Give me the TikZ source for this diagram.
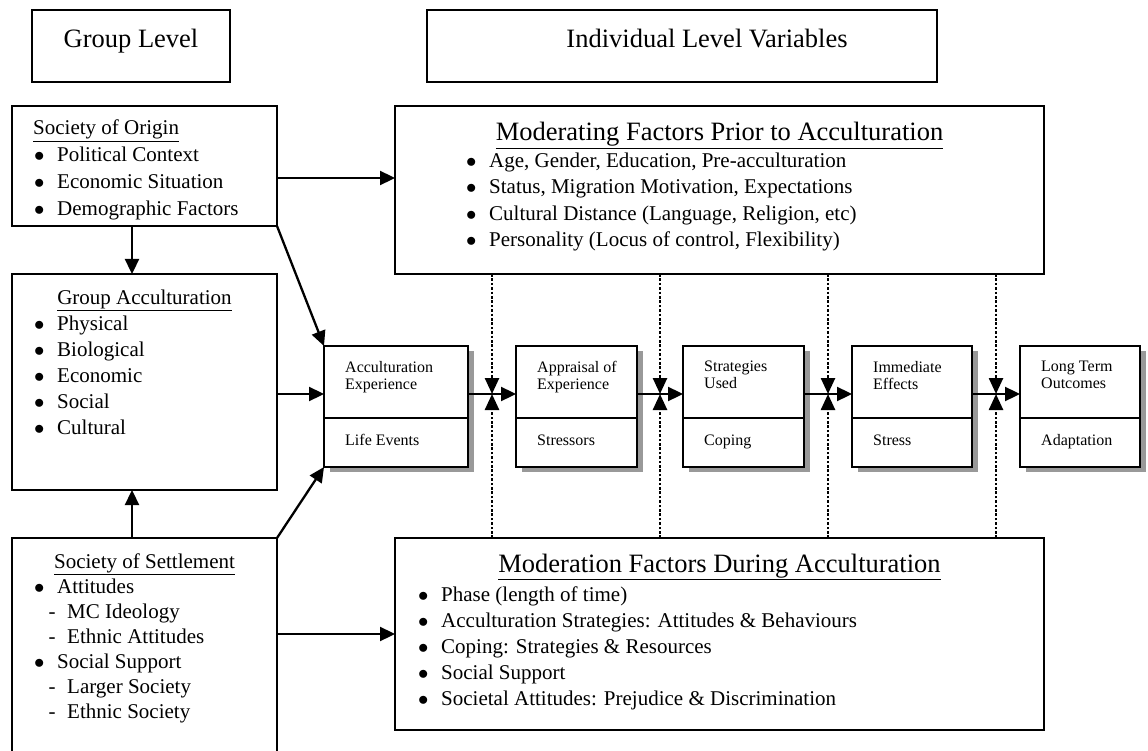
\documentclass[tikz,border=0pt]{standalone}
\usepackage{fontspec}
\setmainfont{Liberation Serif}
\usetikzlibrary{positioning,arrows.meta,shadows}

\newcommand{\bul}{\makebox[23pt][l]{$\bullet$}}
\newcommand{\dsh}{\hspace{14.5pt}\makebox[18.5pt][l]{-}}

\begin{document}
\begin{tikzpicture}[x=1pt,y=-1pt,
  box/.style={draw, line width=1.4pt, outer sep=0pt, inner sep=0pt},
  stage/.style={box, fill=white, minimum width=121, minimum height=121,
    drop shadow={shadow xshift=6pt, shadow yshift=-5pt, fill=black!40, opacity=1}},
  head/.style={font=\fontsize{26.5}{30}\selectfont, inner sep=0pt},
  item/.style={font=\fontsize{21}{26}\selectfont, anchor=base west, inner sep=0pt},
  small/.style={font=\fontsize{16}{17}\selectfont, inner sep=0pt, align=left},
  arrow/.style={line width=2.3pt, -{Triangle[length=15pt,width=14pt]}},
  link/.style={line width=2.5pt, dash pattern=on 2.6pt off 1.8pt, -{Triangle[length=16pt,width=14pt]}}]
\useasboundingbox (0,0) rectangle (1148,751);

% level headings
\node[box, minimum width=198, minimum height=72] (grouplvl) at (131,46) {};
\node[head, anchor=base] (grouplvltxt) at (131,48) {Group Level};
\node[box, minimum width=510, minimum height=72] (indiv) at (682,46) {};
\node[head, anchor=base] (indivtxt) at (707,48) {Individual Level Variables};

% group level
\node[box, minimum width=265, minimum height=120] (origin) at (144.5,166) {};
\node[item] (origintitle) at (33,135) {\underline{Society of Origin}};
\foreach \t [count=\i] in {Political Context, Economic Situation, Demographic Factors}
  \node[item] (origin\i) at (34,135+26.7*\i) {\bul\t};

\node[box, minimum width=265, minimum height=216] (groupacc) at (144.5,382) {};
\node[item, anchor=base] (groupacctitle) at (144.5,304) {\underline{Group Acculturation}};
\foreach \t [count=\i] in {Physical, Biological, Economic, Social, Cultural}
  \node[item] (groupacc\i) at (34,304+26*\i) {\bul\t};

\node[box, minimum width=265, minimum height=232] (settle) at (144.5,654) {};
\node[item, anchor=base] (settletitle) at (144.5,568) {\underline{Society of Settlement}};
\foreach \t [count=\i] in {\bul Attitudes, \dsh MC Ideology, \dsh Ethnic Attitudes,
    \bul Social Support, \dsh Larger Society, \dsh Ethnic Society}
  \node[item] (settle\i) at (34,568+25*\i) {\t};

% individual level
\node[box, minimum width=649, minimum height=168] (prior) at (719.5,190) {};
\node[head, anchor=base] (priortitle) at (719.5,141) {\underline{Moderating Factors Prior to Acculturation}};
\foreach \t [count=\i] in {{Age, Gender, Education, Pre-acculturation},
    {Status, Migration Motivation, Expectations},
    {Cultural Distance (Language, Religion, etc)},
    {Personality (Locus of control, Flexibility)}}
  \node[item] (prior\i) at (466,141+26.5*\i) {\bul\t};

\node[box, minimum width=649, minimum height=192] (during) at (719.5,634) {};
\node[head, anchor=base] (duringtitle) at (719.5,572) {\underline{Moderation Factors During Acculturation}};
\foreach \t [count=\i] in {{Phase (length of time)},
    {Acculturation Strategies: Attitudes \& Behaviours},
    {Coping: Strategies \& Resources}, {Social Support},
    {Societal Attitudes: Prejudice \& Discrimination}}
  \node[item] (during\i) at (418,575+26*\i) {\bul\t};

% stages
\node[stage, minimum width=144] (ae) at (396,406.5) {};
\node[stage, right=48pt of ae] (ap) {};
\node[stage, right=46pt of ap] (su) {};
\node[stage, minimum width=120, right=48pt of su] (ie) {};
\node[stage, minimum width=120, right=48pt of ie] (lt) {};
\foreach \n in {ae,ap,su,ie,lt}
  \draw[line width=1.4pt] ([yshift=-72]\n.north west) -- ([yshift=-72]\n.north east);

\node[small, anchor=north west] (aetop) at ([xshift=21,yshift=-15]ae.north west) {Acculturation\\Experience};
\node[small, anchor=base west] (aebottom) at ([xshift=21,yshift=22]ae.south west) {Life Events};
\node[small, anchor=north west] (aptop) at ([xshift=21,yshift=-15]ap.north west) {Appraisal of\\Experience};
\node[small, anchor=base west] (apbottom) at ([xshift=21,yshift=22]ap.south west) {Stressors};
\node[small, anchor=north west] (sutop) at ([xshift=21,yshift=-15]su.north west) {Strategies\\Used};
\node[small, anchor=base west] (subottom) at ([xshift=21,yshift=22]su.south west) {Coping};
\node[small, anchor=north west] (ietop) at ([xshift=21,yshift=-15]ie.north west) {Immediate\\Effects};
\node[small, anchor=base west] (iebottom) at ([xshift=21,yshift=22]ie.south west) {Stress};
\node[small, anchor=north west] (lttop) at ([xshift=21,yshift=-15]lt.north west) {Long Term\\Outcomes};
\node[small, anchor=base west] (ltbottom) at ([xshift=21,yshift=22]lt.south west) {Adaptation};

% meeting points
\coordinate (m1) at (492,394);
\coordinate (m2) at (660,394);
\coordinate (m3) at (828,394);
\coordinate (m4) at (996,394);

\draw[arrow] ([yshift=-12]origin.east) -- ([yshift=-12]origin.east -| prior.west);
\draw[arrow] ([xshift=-12.5]origin.south) -- ([xshift=-12.5]groupacc.north);
\draw[arrow] ([xshift=-12.5]settle.north) -- ([xshift=-12.5]groupacc.south);
\draw[arrow] (origin.south east) -- (ae.north west);
\draw[arrow] (settle.north east) -- (ae.south west);
\draw[arrow] (settle.east |- during.west) -- (during.west);
\draw[arrow] (groupacc.east |- m1) -- (ae.west |- m1);
\draw[arrow] (ae.east |- m1) -- (ap.west |- m1);
\draw[arrow] (ap.east |- m2) -- (su.west |- m2);
\draw[arrow] (su.east |- m3) -- (ie.west |- m3);
\draw[arrow] (ie.east |- m4) -- (lt.west |- m4);

\foreach \m in {m1,m2,m3,m4} {
  \draw[link] (prior.south -| \m) -- (\m);
  \draw[link] (during.north -| \m) -- (\m);
}
\end{tikzpicture}
\end{document}
